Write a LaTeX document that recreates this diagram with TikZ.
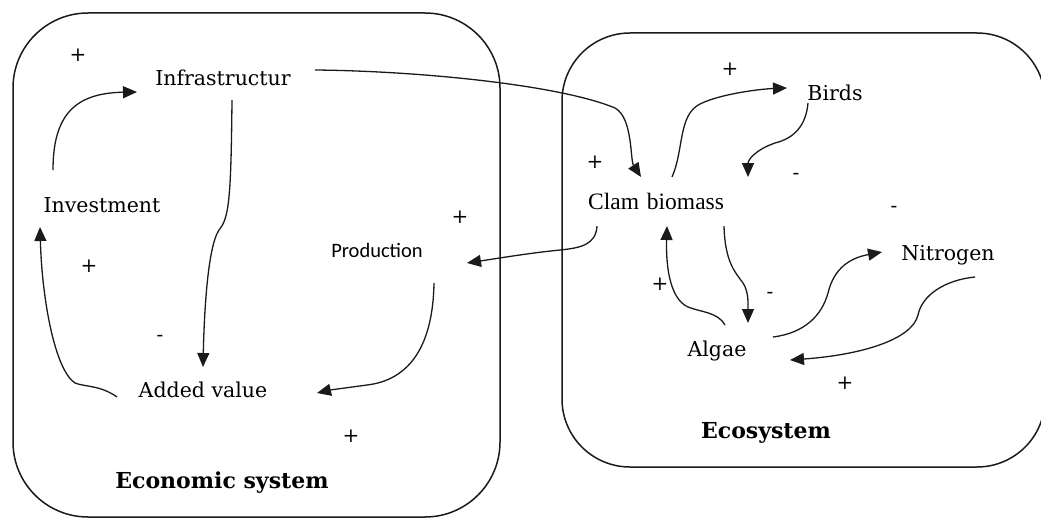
\documentclass[tikz,border=0pt]{standalone}
\usepackage{fontspec}
\usetikzlibrary{arrows.meta}
\newfontfamily\lblfont{DejaVu Serif}
\newfontfamily\clamfont{Liberation Serif}
\newfontfamily\prodfont{Carlito}
\definecolor{ink}{HTML}{1A1A1A}
\begin{document}
\begin{tikzpicture}[x=1pt,y=-1pt,
  systembox/.style={draw=ink,line width=1.5pt},
  label/.style={anchor=base,inner sep=0pt,font=\lblfont\fontsize{20.5}{24}\selectfont},
  title/.style={anchor=base,inner sep=0pt,font=\lblfont\bfseries\fontsize{22}{26}\selectfont},
  sign/.style={inner sep=0pt,font=\lblfont\fontsize{20}{24}\selectfont},
  link/.style={draw=ink,line width=1.3pt,-{Triangle[length=14pt,width=12pt]}}
]
\useasboundingbox (0,0) rectangle (1041,519);

% the two systems
\draw[systembox,rounded corners=75pt] (13,13) rectangle (500,517);
\draw[systembox,rounded corners=68pt] (562,33) rectangle (1045,467);

% economic system
\node[label] (infra) at (223,85) {Infrastructur};
\node[label] (inv) at (102,212) {Investment};
\node[label] (added) at (203,397) {Added value};
\node[anchor=base,inner sep=0pt,font=\prodfont\fontsize{20.5}{24}\selectfont] (prod) at (377,257) {Production};
\node[title] (econ) at (222,488) {Economic system};

% ecosystem
\node[label] (birds) at (835,100) {Birds};
\node[label] (nitro) at (948,260) {Nitrogen};
\node[label] (algae) at (717,356) {Algae};
\node[title] (eco) at (766,438) {Ecosystem};

% arrows of the economic loop
\draw[link] ([shift={(-49,-42)}]inv.base) .. controls (53,115) and (75,93) .. ([shift={(-86,7)}]infra.base);
\draw[link] ([shift={(9,15)}]infra.base) .. controls (231,200) and (229,218) .. (219,230)
  .. controls (207,248) and (204,320) .. ([shift={(0,-30)}]added.base);
\draw[link] ([shift={(-86,0)}]added.base) .. controls (100,385) and (85,387) .. (75,383)
  .. controls (55,370) and (42,300) .. ([shift={(-62,15)}]inv.base);
\draw[link] ([shift={(57,26)}]prod.base) .. controls (433,345) and (410,380) .. (367,385)
  .. controls (345,388) and (330,390) .. ([shift={(114,-4)}]added.base);

% arrows of the ecosystem loops, drawn before the clam label which covers them
\draw[link] ([shift={(92,-15)}]infra.base) .. controls (420,71) and (560,85) .. (615,108)
  .. controls (633,118) and (630,160) .. (641,177);
\draw[link] (672,177) .. controls (684,150) and (678,115) .. (700,104)
  .. controls (720,94) and (760,89) .. ([shift={(-48,-12)}]birds.base);
\draw[link] ([shift={(-27,3)}]birds.base) .. controls (806,125) and (795,138) .. (775,143)
  .. controls (755,150) and (748,160) .. (748,177);
\draw[link] (597,226) .. controls (596,245) and (580,248) .. (560,250)
  .. controls (530,253) and (500,258) .. ([shift={(90,6)}]prod.base);
\draw[link] ([shift={(8,-31)}]algae.base) .. controls (718,312) and (700,312) .. (688,307)
  .. controls (668,298) and (666,260) .. (667,226);
\draw[link] (724,226) .. controls (725,262) and (735,272) .. (743,283)
  .. controls (749,292) and (748,305) .. ([shift={(31,-33)}]algae.base);
\draw[link] ([shift={(56,-19)}]algae.base) .. controls (805,333) and (822,315) .. (828,293)
  .. controls (834,268) and (850,258) .. ([shift={(-66,-8)}]nitro.base);
\draw[link] ([shift={(27,17)}]nitro.base) .. controls (945,280) and (922,295) .. (918,315)
  .. controls (912,340) and (860,355) .. ([shift={(73,4)}]algae.base);

% clam biomass label on a white patch
\node[anchor=west,fill=white,inner xsep=12pt,inner ysep=0pt,text width=190pt,align=left,
  minimum height=49pt,text height=16pt,text depth=0pt,
  font=\clamfont\fontsize{23.5}{27}\selectfont] (clam) at (576,201.5) {Clam biomass};

% polarity signs
\node[sign] (s1) at (78,55) {+};
\node[sign] (s2) at (460,217) {+};
\node[sign] (s3) at (89,266) {+};
\node[sign] (s4) at (160,338) {-};
\node[sign] (s5) at (351,436) {+};
\node[sign] (s6) at (730,69) {+};
\node[sign] (s7) at (595,162) {+};
\node[sign] (s8) at (796,176) {-};
\node[sign] (s9) at (894,209) {-};
\node[sign] (s10) at (660,284) {+};
\node[sign] (s11) at (770,295) {-};
\node[sign] (s12) at (845,383) {+};
\end{tikzpicture}
\end{document}
